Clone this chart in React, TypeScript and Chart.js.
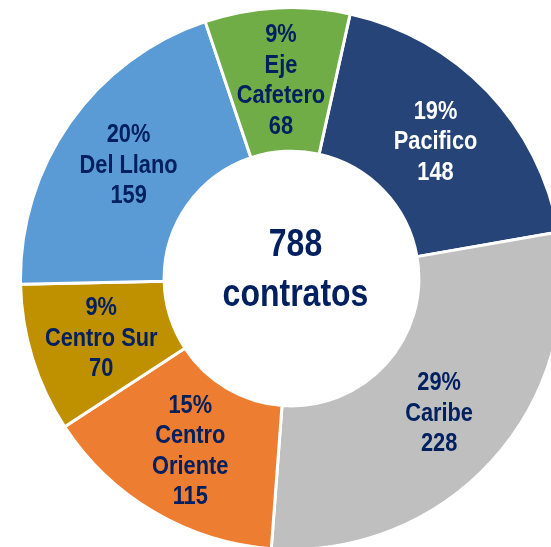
import React, { useEffect, useRef } from "react";
import { Chart, registerables } from "chart.js";

Chart.register(...registerables);

const regions = ["Pacifico", "Caribe", "Centro Oriente", "Centro Sur", "Del Llano", "Eje Cafetero"];
const labelLines = [["Pacifico"], ["Caribe"], ["Centro", "Oriente"], ["Centro Sur"], ["Del Llano"], ["Eje", "Cafetero"]];
const contracts = [148, 228, 115, 70, 159, 68];
const colors = ["#264478", "#bfbfbf", "#ed7d31", "#bf9000", "#5b9bd5", "#70ad47"];
const textColors = ["#ffffff", "#002060", "#002060", "#002060", "#002060", "#002060"];
const centerLines = ["788", "contratos"];

const FONT = "'Liberation Sans', Arial, sans-serif";

const labelPlugin = {
  id: "sliceLabels",
  afterDatasetsDraw(chart: any) {
    const ctx = chart.ctx;
    const meta = chart.getDatasetMeta(0);
    const total = contracts.reduce((a, b) => a + b, 0);
    const sy = 1.18;
    const lh = 30.5;
    meta.data.forEach((arc: any, i: number) => {
      const p = arc.tooltipPosition();
      const pct = Math.round((contracts[i] / total) * 100) + "%";
      const lines = [pct, ...labelLines[i], String(contracts[i])];
      ctx.save();
      ctx.fillStyle = textColors[i];
      ctx.font = `bold 21.8px ${FONT}`;
      ctx.textAlign = "center";
      ctx.textBaseline = "middle";
      const start = -((lines.length - 1) * lh) / 2 + 1.5;
      lines.forEach((t, k) => {
        ctx.save();
        ctx.translate(p.x, p.y + start + k * lh);
        ctx.scale(1, sy);
        ctx.fillText(t, 0, 0);
        ctx.restore();
      });
      ctx.restore();
    });
    // center text
    const arc0: any = meta.data[0];
    const cx = arc0.x + 4;
    const cy = arc0.y;
    ctx.save();
    ctx.fillStyle = "#002060";
    ctx.font = `bold 32px ${FONT}`;
    ctx.textAlign = "center";
    ctx.textBaseline = "middle";
    const offs = [-33, 17];
    centerLines.forEach((t, k) => {
      ctx.save();
      ctx.translate(cx, cy + offs[k]);
      ctx.scale(1, 1.2);
      ctx.fillText(t, 0, 0);
      ctx.restore();
    });
    ctx.restore();
  },
};

export default function App() {
  const ref = useRef<HTMLCanvasElement>(null);
  useEffect(() => {
    if (!ref.current) return;
    const chart = new Chart(ref.current, {
      type: "doughnut",
      data: {
        labels: regions,
        datasets: [
          {
            data: contracts,
            backgroundColor: colors,
            borderColor: "#ffffff",
            borderWidth: 3,
            hoverBorderWidth: 3,
            hoverOffset: 0,
            offset: 0,
          },
        ],
      },
      options: {
        responsive: false,
        animation: false,
        cutout: "47%",
        rotation: 12.5,
        layout: { padding: 0 },
        plugins: {
          legend: { display: false },
          tooltip: { enabled: false },
        },
        events: [],
      },
      plugins: [labelPlugin],
    });
    return () => chart.destroy();
  }, []);
  return (
    <div
      style={{
        position: "fixed",
        left: 0,
        top: 0,
        width: 551,
        height: 547,
        overflow: "hidden",
        background: "#ffffff",
      }}
    >
      <div style={{ position: "absolute", left: 19, top: 6, width: 545, height: 545 }}>
        <canvas ref={ref} width={545} height={545} style={{ display: "block" }} />
      </div>
    </div>
  );
}
